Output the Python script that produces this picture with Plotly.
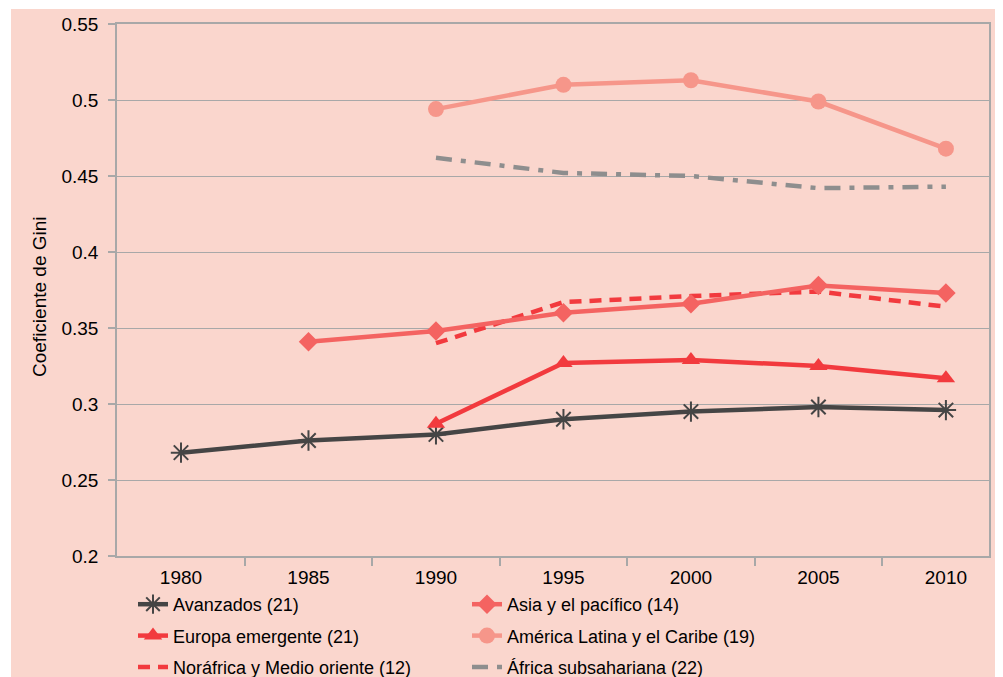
import plotly.graph_objects as go

years = [1980, 1985, 1990, 1995, 2000, 2005, 2010]
avanzados = [0.268, 0.276, 0.280, 0.290, 0.295, 0.298, 0.296]
asia = [None, 0.341, 0.348, 0.360, 0.366, 0.378, 0.373]
europa = [None, None, 0.287, 0.327, 0.329, 0.325, 0.317]
america = [None, None, 0.494, 0.510, 0.513, 0.499, 0.468]
norafrica = [None, None, 0.340, 0.367, 0.371, 0.374, 0.364]
africa = [None, None, 0.462, 0.452, 0.450, 0.442, 0.443]

y_ticks = [0.2, 0.25, 0.3, 0.35, 0.4, 0.45, 0.5, 0.55]
y_ticktext = ["0.2", "0.25", "0.3", "0.35", "0.4", "0.45", "0.5", "0.55"]
x_ticktext = [str(y) for y in years]
x_bounds = [1982.5, 1987.5, 1992.5, 1997.5, 2002.5, 2007.5]

BG = "#FAD6CD"
GRID = "#A8A8A8"
TXT = "#000000"
FONT = "Liberation Sans, Arial, Helvetica, sans-serif"

fig = go.Figure()

def add(name, ys, color, symbol, msize, dash="solid", legend="legend", mline=None, grp=None, mode="lines+markers"):
    marker = dict(symbol=symbol, size=msize, color=color)
    if mline:
        marker["line"] = dict(color=color, width=mline)
    fig.add_trace(go.Scatter(
        x=years, y=ys, name=name, mode=mode,
        line=dict(color=color, width=4.5, dash=dash),
        marker=marker, legend=legend, legendgroup=grp, connectgaps=False,
    ))

add("Avanzados (21)", avanzados, "#454545", "asterisk-open", 17, legend="legend", mline=2, grp="a")
add("Europa emergente (21)", europa, "#F23A3E", "triangle-up", 16, legend="legend", grp="b")
add("Noráfrica y Medio oriente (12)", norafrica, "#F23A3E", "circle", 1, dash="12px,8px", legend="legend", grp="c", mode="lines")
add("Asia y el pacífico (14)", asia, "#F46361", "diamond", 15, legend="legend2", grp="d")
add("América Latina y el Caribe (19)", america, "#F6968A", "circle", 16, legend="legend2", grp="e")
add("África subsahariana (22)", africa, "#8E8E8E", "circle", 1, dash="16px,9px,5px,9px", legend="legend2", grp="f", mode="lines")

# figure coordinates (page coords minus 8px body margin)
L, R, T, B = 109, 981, 16, 548
W, H = 995, 669
ph = B - T
pw = R - L

fig.add_shape(type="rect", xref="paper", yref="paper",
              x0=(3 - L) / pw, x1=(W - L) / pw + 0.01,
              y0=-(H - B) / ph - 0.01, y1=1 + (T - 1) / ph,
              fillcolor=BG, line=dict(width=0), layer="below")

fig.add_annotation(text="Coeficiente de Gini", xref="paper", yref="paper",
                   x=(32 - L) / pw, y=(B - 289) / ph, xanchor="center", yanchor="middle",
                   textangle=-90, showarrow=False,
                   font=dict(family=FONT, size=19, color=TXT))

leg_common = dict(
    orientation="v", bgcolor="rgba(0,0,0,0)", borderwidth=0,
    font=dict(family=FONT, size=18, color=TXT),
    xref="container", yref="container", xanchor="left", yanchor="top",
    tracegroupgap=5, itemwidth=30,
)
fig.update_layout(
    width=W, height=H,
    margin=dict(l=L, r=W - R, t=T, b=H - B, autoexpand=False),
    paper_bgcolor="white", plot_bgcolor=BG,
    font=dict(family=FONT, color=TXT),
    showlegend=True,
    legend=dict(x=125 / W, y=1 - 578 / H, **leg_common),
    legend2=dict(x=459 / W, y=1 - 578 / H, **leg_common),
    xaxis=dict(
        range=[1977.49, 2011.69], tickmode="array", tickvals=years, ticktext=x_ticktext,
        ticks="", showgrid=False, zeroline=False, tickangle=0,
        showline=True, linecolor=GRID, linewidth=1.5, mirror=True,
        tickfont=dict(family=FONT, size=19, color=TXT),
        ticklabelstandoff=3,
        minor=dict(tickvals=x_bounds, ticks="outside", ticklen=8, tickcolor=GRID, tickwidth=1.5, showgrid=False),
    ),
    yaxis=dict(
        range=[0.2, 0.55], tickmode="array", tickvals=y_ticks, ticktext=y_ticktext,
        ticks="outside", ticklen=7, tickcolor=GRID, tickwidth=1.5,
        showgrid=True, gridcolor=GRID, gridwidth=1.2, zeroline=False,
        showline=True, linecolor=GRID, linewidth=1.5, mirror=True,
        tickfont=dict(family=FONT, size=19, color=TXT),
        ticklabelstandoff=6,
    ),
)

fig.write_html("out.html")
